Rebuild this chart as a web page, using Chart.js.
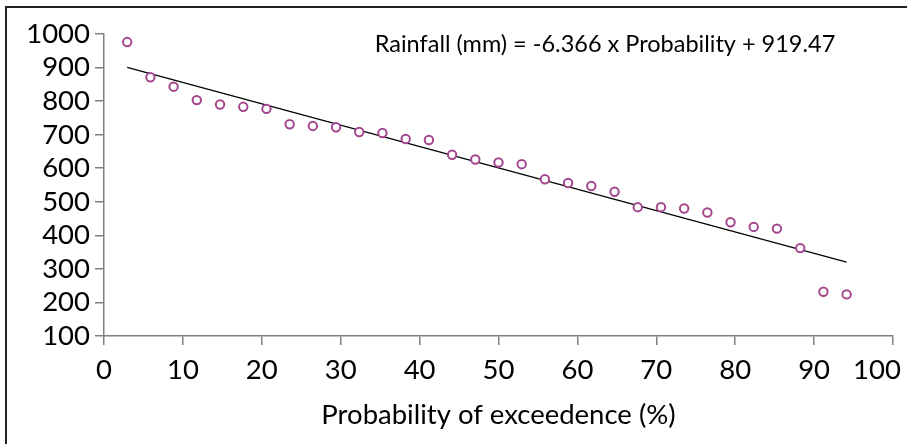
<!DOCTYPE html>
<html>
<head>
<meta charset="utf-8">
<script src="https://cdn.jsdelivr.net/npm/chart.js@4.4.1/dist/chart.umd.min.js"></script>
<style>
  html, body { margin: 0; padding: 0; background: #fff; overflow: hidden; }
  #wrap { position: relative; width: 907px; height: 444px; }
  #frame { position: absolute; left: 5px; top: 6px; width: 940px; height: 480px; border: 2px solid #222; box-sizing: border-box; pointer-events: none; }
</style>
</head>
<body>
<div id="wrap">
  <canvas id="chart" width="907" height="444"></canvas>
  <div id="frame"></div>
</div>
<script>
// Probabilité de dépassement (%) et pluie (mm)
const probability = [2.94, 5.88, 8.82, 11.76, 14.71, 17.65, 20.59, 23.53, 26.47, 29.41, 32.35,
    35.29, 38.24, 41.18, 44.12, 47.06, 50.00, 52.94, 55.88, 58.82, 61.76, 64.71, 67.65,
    70.59, 73.53, 76.47, 79.41, 82.35, 85.29, 88.24, 91.18, 94.12];
const rainfall = [976, 871, 843, 803, 790, 783, 777, 731, 726, 722, 708,
    705, 687, 684, 640, 626, 617, 612, 567, 556, 547, 530, 484,
    484, 480, 468, 439, 425, 420, 362, 232, 224];

// Droite de tendance : Rainfall = -6.366 x Probability + 919.47
const slope = -6.366;
const intercept = 919.47;
const equationText = 'Rainfall (mm) = -6.366 x Probability + 919.47';

const xTicks = [0, 10, 20, 30, 40, 50, 60, 70, 80, 90, 100];
const yTicks = [100, 200, 300, 400, 500, 600, 700, 800, 900, 1000];

const FONT = 'Lato, "Open Sans", sans-serif';

const trendStart = probability[0];
const trendEnd = probability[probability.length - 1];

// Texte de l'équation placé en coordonnées de données
const equationPlugin = {
    id: 'equation',
    afterDatasetsDraw(chart) {
        const ctx = chart.ctx;
        const x = chart.scales.x.getPixelForValue(63.5);
        const y = chart.scales.y.getPixelForValue(970);
        ctx.save();
        ctx.font = '23.5px ' + FONT;
        ctx.fillStyle = '#000';
        ctx.textAlign = 'center';
        ctx.textBaseline = 'middle';
        ctx.fillText(equationText, x, y);
        ctx.restore();
    }
};

document.addEventListener("DOMContentLoaded", function () {
    const ctx = document.getElementById('chart').getContext('2d');
    new Chart(ctx, {
        type: 'scatter',
        data: {
            datasets: [{
                label: 'Rainfall',
                data: probability.map((p, i) => ({ x: p, y: rainfall[i] })),
                pointStyle: 'circle',
                pointRadius: 4.2,
                pointBorderWidth: 2,
                borderColor: '#a3468e',
                backgroundColor: '#ffffff',
                order: 1
            }, {
                type: 'line',
                label: 'Trend',
                data: [
                    { x: trendStart, y: slope * trendStart + intercept },
                    { x: trendEnd, y: slope * trendEnd + intercept }
                ],
                borderColor: '#000000',
                borderWidth: 1.2,
                pointRadius: 0,
                fill: false,
                order: 2
            }]
        },
        options: {
            responsive: false,
            animation: false,
            layout: { padding: { left: 0, right: 14, top: 34, bottom: 0 } },
            plugins: {
                legend: { display: false },
                tooltip: { enabled: false }
            },
            scales: {
                x: {
                    type: 'linear',
                    min: 0,
                    max: 100,
                    afterBuildTicks: s => { s.ticks = xTicks.map(v => ({ value: v })); },
                    afterFit: s => { s.height = 108; s.paddingLeft = 0; s.paddingRight = 0; },
                    grid: { display: true, drawOnChartArea: false, drawTicks: true, tickLength: 9, color: '#808080', lineWidth: 1.5 },
                    border: { display: true, color: '#808080', width: 1.5 },
                    ticks: {
                        color: '#000',
                        font: { family: FONT, size: 27.5 },
                        padding: 9,
                        maxRotation: 0,
                        autoSkip: false,
                        // décale le dernier libellé vers la gauche comme dans Excel
                        callback: v => v === 100 ? '100\u2007\u2007' : String(v)
                    },
                    title: {
                        display: true,
                        text: 'Probability of exceedence (%)',
                        color: '#000',
                        font: { family: FONT, size: 27.5 },
                        padding: { top: 2, bottom: 12 }
                    }
                },
                y: {
                    type: 'linear',
                    min: 100,
                    max: 1000,
                    afterBuildTicks: s => { s.ticks = yTicks.map(v => ({ value: v })); },
                    afterFit: s => { s.width = 104; s.paddingTop = 0; s.paddingBottom = 0; },
                    grid: { display: true, drawOnChartArea: false, drawTicks: true, tickLength: 9, color: '#808080', lineWidth: 1.5 },
                    border: { display: true, color: '#808080', width: 1.5 },
                    ticks: {
                        color: '#000',
                        font: { family: FONT, size: 27.5 },
                        padding: 5,
                        autoSkip: false,
                        callback: v => String(v)
                    }
                }
            }
        },
        plugins: [equationPlugin]
    });
});
</script>
</body>
</html>
